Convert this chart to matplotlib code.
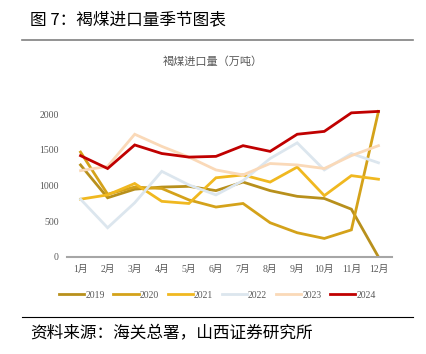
import matplotlib
matplotlib.use("Agg")
import matplotlib.pyplot as plt
from matplotlib.lines import Line2D

plt.rcParams['font.family'] = ['Noto Sans CJK SC', 'DejaVu Sans']

months = ['1月', '2月', '3月', '4月', '5月', '6月', '7月', '8月', '9月', '10月', '11月', '12月']
years = ['2019', '2020', '2021', '2022', '2023', '2024']
v2019 = [1290, 830, 950, 980, 990, 930, 1050, 930, 850, 820, 670, 0]
v2020 = [1470, 880, 980, 960, 800, 700, 750, 480, 340, 260, 380, 2040]
v2021 = [810, 870, 1030, 780, 750, 1110, 1150, 1050, 1260, 860, 1140, 1090]
v2022 = [810, 410, 760, 1200, 1010, 870, 1070, 1380, 1600, 1220, 1450, 1320]
v2023 = [1210, 1270, 1720, 1550, 1400, 1220, 1150, 1310, 1290, 1240, 1420, 1560]
v2024 = [1420, 1240, 1570, 1450, 1400, 1410, 1560, 1480, 1720, 1760, 2020, 2040]
colors = ['#B8901C', '#D4A21A', '#F0B820', '#DCE6EE', '#FAD9B8', '#C00000']

series = [v2019, v2020, v2021, v2022, v2023, v2024]

fig = plt.figure(figsize=(4.26, 3.54), dpi=100)
fig.text(30/426, 1-20/354, '图 7：褐煤进口量季节图表', fontsize=12, va='center', ha='left', color='#000000')
fig.add_artist(Line2D([22/426, 413/426], [1-40/354, 1-40/354], color='#808080', lw=1.2))
fig.add_artist(Line2D([22/426, 413/426], [1-317/354, 1-317/354], color='#000000', lw=0.8))
fig.text(30/426, 1-334/354, '资料来源：海关总署，山西证券研究所', fontsize=12, va='center', ha='left')
fig.text(0.5, 1-62/354, '褐煤进口量（万吨）', fontsize=8, ha='center', va='center', color='#595959')

ax = fig.add_axes([67/426, 1-257/354, 325/426, 157/354])
x = list(range(12))
for yr, vals, c in zip(years, series, colors):
    ax.plot(x, vals, color=c, lw=2.0, label=yr, solid_joinstyle='miter')

ax.set_xlim(-0.5, 11.5)
ax.set_ylim(0, 2200)
ax.set_yticks([0, 500, 1000, 1500, 2000])
ax.set_xticks(x)
ax.set_xticklabels(months)
for s in ['top', 'right', 'left']:
    ax.spines[s].set_visible(False)
ax.spines['bottom'].set_color('#A6A6A6')
ax.spines['bottom'].set_linewidth(1.5)
ax.tick_params(axis='both', length=0, labelsize=7, colors='#595959', pad=6)
for lab in ax.get_xticklabels() + ax.get_yticklabels():
    lab.set_family(['Liberation Serif', 'Noto Sans CJK SC'])

leg = fig.legend(loc='center', bbox_to_anchor=(0.51, 1-295/354), ncol=6, frameon=False,
                 fontsize=7, handlelength=2.6, handletextpad=0.1, columnspacing=0.9)
for t in leg.get_texts():
    t.set_color('#595959')
    t.set_family(['Liberation Serif', 'Noto Sans CJK SC'])

fig.savefig('out.png', dpi=100)
